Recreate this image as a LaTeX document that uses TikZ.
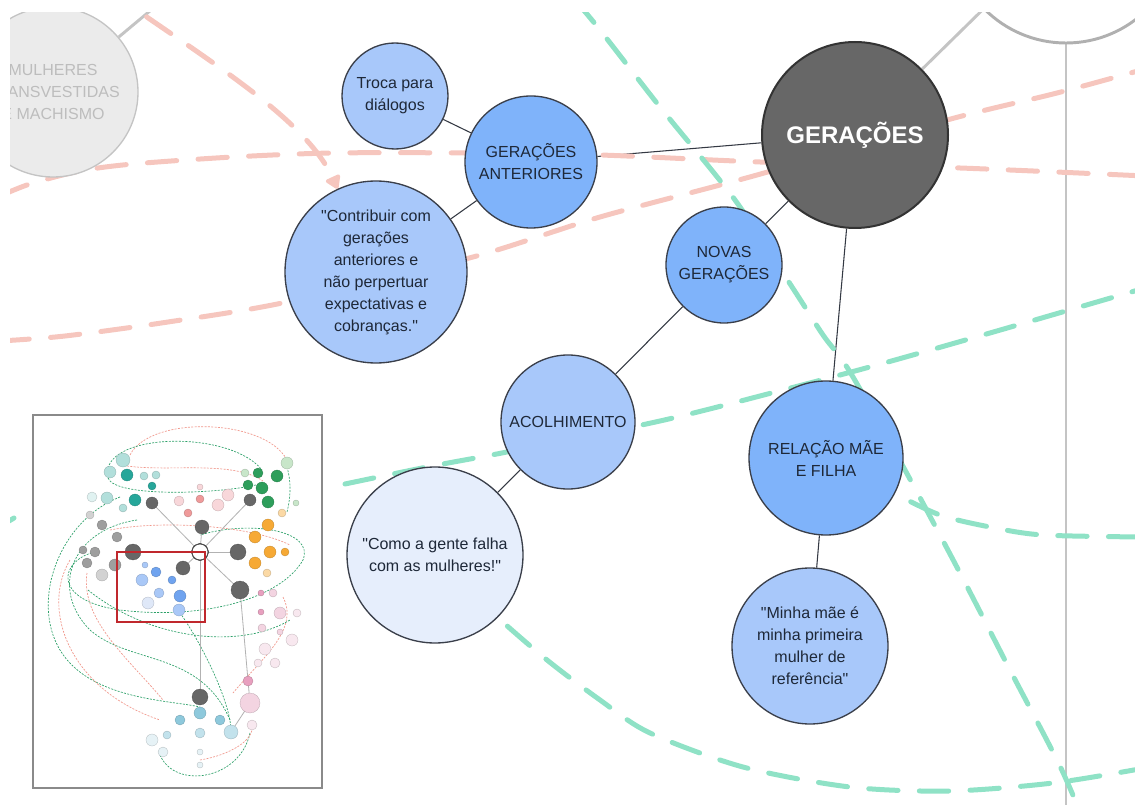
\documentclass[tikz,border=0pt]{standalone}
\usepackage{fontspec}
\setmainfont{Liberation Sans}[Ligatures=TeXOff]
\usetikzlibrary{arrows.meta,backgrounds}

\definecolor{navytext}{HTML}{1E2838}
\definecolor{outline}{HTML}{3A3F4A}
\definecolor{blueMid}{HTML}{7FB3FA}
\definecolor{blueLight}{HTML}{A8C8FA}
\definecolor{blueFaint}{HTML}{E6EEFC}
\definecolor{hubgray}{HTML}{676767}
\definecolor{greyfill}{HTML}{EBEBEB}
\definecolor{greyline}{HTML}{C4C4C4}
\definecolor{greytext}{HTML}{BDBDBD}
\definecolor{dpink}{HTML}{F6C6BE}
\definecolor{dgreen}{HTML}{8FE2C6}
\definecolor{frame}{HTML}{8A8A8A}
\definecolor{focusred}{HTML}{C0282D}
% thumbnail palette
\definecolor{tealD}{HTML}{26A69A}\definecolor{tealL}{HTML}{B2DFDB}\definecolor{tealV}{HTML}{E0F2F1}
\definecolor{grnD}{HTML}{2E9E5B}\definecolor{grnL}{HTML}{C8E6C9}
\definecolor{redD}{HTML}{EF9A9A}\definecolor{redL}{HTML}{F8D7DA}
\definecolor{orgD}{HTML}{F6A935}\definecolor{orgL}{HTML}{FBD9A5}
\definecolor{gryD}{HTML}{9E9E9E}\definecolor{gryL}{HTML}{D2D2D2}
\definecolor{bluD}{HTML}{6FA3EF}\definecolor{bluL}{HTML}{A9C8F7}\definecolor{bluV}{HTML}{DFE8F8}
\definecolor{pnkD}{HTML}{E8A0BF}\definecolor{pnkL}{HTML}{F3D4E1}\definecolor{pnkV}{HTML}{F8E8EF}
\definecolor{cyaD}{HTML}{8EC9DC}\definecolor{cyaL}{HTML}{C2E2EC}\definecolor{cyaV}{HTML}{E6F2F6}

\newcommand\thumbdot[4]{\filldraw[fill=#4,draw=#4!75!black,line width=0.2pt] (#1,#2) circle[radius=#3*0.75pt];}

\begin{document}
\begin{tikzpicture}[x=0.75pt,y=-0.75pt,
  bubble/.style={circle,draw=outline,line width=1pt,inner sep=0pt,
    minimum size=#1*0.75pt,align=center,text=navytext,
    font=\fontsize{12}{16.5}\selectfont},
  link/.style={draw=outline!90!black,line width=0.8pt},
  greylink/.style={draw=greyline,line width=2.2pt},
  pinkdash/.style={draw=dpink,line width=3.75pt,dash pattern=on 22pt off 16pt,line cap=round},
  greendash/.style={draw=dgreen,line width=3.75pt,dash pattern=on 22pt off 16pt,line cap=round},
  thumbpink/.style={draw=redD!90!orange,line width=0.5pt,dash pattern=on 1.5pt off 1pt},
  thumbgreen/.style={draw=grnD!80!tealD,line width=0.5pt,dash pattern=on 1.5pt off 1pt},
  spoke/.style={draw=gray!60,line width=0.6pt}]
\useasboundingbox (0,0) rectangle (1135,805);

% ---------- map nodes ----------
\begin{scope}
\clip (10,13) rectangle (1135,805);
\node[bubble=170,fill=greyfill,draw=greyline,text=greytext] (mulheres) at (53,92)
  {MULHERES\\TRANSVESTIDAS\\E MACHISMO};
\node[circle,draw=greyline!90!black,line width=2.2pt,fill=white,minimum size=230*0.75pt] (topnode) at (1066,-72) {};
\node[bubble=186,fill=hubgray,draw=black!80,line width=1.5pt,text=white,
  font=\fontsize{18}{20}\selectfont\bfseries] (geracoes) at (855,135) {GERAÇÕES};
\node[bubble=132,fill=blueMid] (anteriores) at (531,162) {GERAÇÕES\\ANTERIORES};
\node[bubble=106,fill=blueLight] (troca) at (395,96) {Troca para\\diálogos};
\node[bubble=182,fill=blueLight] (contrib) at (376,272)
  {"Contribuir com\\gerações\\anteriores e\\não perpertuar\\expectativas e\\cobranças."};
\node[bubble=116,fill=blueMid] (novas) at (724,265) {NOVAS\\GERAÇÕES};
\node[bubble=134,fill=blueLight] (acolh) at (568,422) {ACOLHIMENTO};
\node[bubble=176,fill=blueFaint] (como) at (435,555) {"Como a gente falha\\com as mulheres!"};
\node[bubble=154,fill=blueMid] (relacao) at (826,458) {RELAÇÃO MÃE\\E FILHA};
\node[bubble=156,fill=blueLight] (minha) at (810,646)
  {"Minha mãe é\\minha primeira\\mulher de\\referência"};
\coordinate (mulheresOut) at (175,-10);
\coordinate (railEnd) at (1066,820);
\end{scope}

% ---------- connectors and dashed relations, under the nodes ----------
\begin{pgfonlayer}{background}
\begin{scope}
\clip (10,13) rectangle (1135,805);
\draw[greylink] (mulheres) -- (mulheresOut);
\draw[greylink] (geracoes) -- (topnode);
\draw[greylink] (topnode) -- (railEnd);

\draw[link] (troca) -- (anteriores);
\draw[link] (contrib) -- (anteriores);
\draw[link] (anteriores) -- (geracoes);
\draw[link] (geracoes) -- (novas);
\draw[link] (novas) -- (acolh);
\draw[link] (acolh) -- (como);
\draw[link] (geracoes) -- (relacao);
\draw[link] (relacao) -- (minha);

% salmon relations
\draw[pinkdash,-{Triangle[length=11pt,width=13pt,round]}]
  (105,-12) .. controls (210,62) and (305,118) .. (contrib);
\draw[pinkdash] plot[smooth] coordinates {(0,196) (30,184) (80,171) (133,164) (233,157)
  (333,153) (470,153) (600,155) (760,162) (960,168) (1145,176)};
\draw[pinkdash] plot[smooth] coordinates {(0,341) (65,336) (168,322) (287,302) (473,257)
  (600,217) (757,175) (947,120) (1057,93) (1145,69)};

% mint relations
\draw[greendash] plot[smooth] coordinates {(575,0) (600,30) (660,107) (735,200) (794,290)
  (823,335) (850,372) (905,470) (960,573) (1010,670) (1058,762) (1080,812)};
\draw[greendash] plot[smooth] coordinates {(345,484) (427,467) (507,452) (660,421)
  (783,390) (877,365) (983,335) (1145,288)};
\draw[greendash] plot[smooth] coordinates {(470,592) (497,617) (547,660) (600,700)
  (650,733) (743,767) (850,787) (950,791) (1053,783) (1145,768)};
\draw[greendash] plot[smooth] coordinates {(865,480) (893,493) (940,515) (990,527)
  (1043,535) (1145,537)};
\draw[draw=dgreen,line width=3.75pt,line cap=round] (9,521) -- (14,518);
\end{scope}
\end{pgfonlayer}

% ---------- overview thumbnail ----------
\begin{scope}
\fill[white] (33,415) rectangle (322,788);
% relations
\draw[thumbpink] (130,455) .. controls (150,415) and (265,418) .. (287,460);
\draw[thumbgreen] (108,468) .. controls (118,432) and (232,432) .. (262,470);
\draw[thumbpink] (127,466) .. controls (170,472) and (232,460) .. (263,481);
\draw[thumbgreen] (108,478) .. controls (115,498) and (222,494) .. (260,484);
\draw[thumbgreen] (287,467) .. controls (292,485) and (290,500) .. (287,512);
\draw[thumbgreen] (120,497) .. controls (60,520) and (30,600) .. (60,650)
  .. controls (90,700) and (170,700) .. (200,707);
\draw[thumbgreen] (137,520) .. controls (70,530) and (50,590) .. (90,630)
  .. controls (130,665) and (200,650) .. (230,720);
\draw[thumbgreen] (95,552) .. controls (60,560) and (50,600) .. (120,610)
  .. controls (200,620) and (280,600) .. (303,560) .. controls (315,530) and (250,520) .. (200,535);
\draw[thumbpink] (87,573) .. controls (80,620) and (130,660) .. (163,700);
\draw[thumbpink] (110,530) .. controls (160,520) and (250,525) .. (290,545);
\draw[thumbpink] (283,597) .. controls (300,630) and (260,660) .. (233,693);
\draw[thumbgreen] (88,590) .. controls (150,640) and (240,650) .. (290,620);
\draw[thumbgreen] (160,755) .. controls (175,790) and (240,780) .. (250,733);
\draw[thumbpink] (200,760) .. controls (230,755) and (255,740) .. (252,725);
\draw[thumbgreen] (178,610) .. controls (200,640) and (230,700) .. (231,730);
\draw[thumbpink] (70,560) .. controls (40,610) and (70,690) .. (160,720);
% spokes
\foreach \hx/\hy in {152/503,250/500,202/527,133/552,238/552,183/568,240/590}
  \draw[spoke] (200,552) -- (\hx,\hy);
\draw[spoke] (200,552) -- (200,697);
\draw[spoke] (240,590) -- (250,703);
\draw[spoke] (250,703) -- (231,732);
% clusters
\thumbdot{127}{475}{6}{tealD}\thumbdot{152}{486}{4}{tealD}\thumbdot{135}{500}{6}{tealD}
\thumbdot{123}{460}{7}{tealL}\thumbdot{110}{472}{6}{tealL}\thumbdot{144}{476}{4}{tealL}
\thumbdot{156}{475}{4}{tealL}\thumbdot{107}{498}{6}{tealL}\thumbdot{123}{508}{4}{tealL}
\thumbdot{92}{497}{5}{tealV}
\thumbdot{258}{473}{5}{grnD}\thumbdot{277}{476}{6}{grnD}\thumbdot{248}{485}{5}{grnD}
\thumbdot{262}{488}{6}{grnD}\thumbdot{268}{502}{6}{grnD}
\thumbdot{245}{473}{4}{grnL}\thumbdot{287}{463}{6}{grnL}\thumbdot{296}{503}{3}{grnL}
\thumbdot{200}{487}{3}{redL}\thumbdot{200}{499}{4}{redD}\thumbdot{179}{501}{5}{redL}
\thumbdot{218}{505}{6}{redL}\thumbdot{228}{495}{6}{redL}\thumbdot{188}{513}{4}{redD}
\thumbdot{268}{525}{6}{orgD}\thumbdot{255}{537}{6}{orgD}\thumbdot{270}{552}{6}{orgD}
\thumbdot{285}{552}{4}{orgD}\thumbdot{255}{563}{6}{orgD}\thumbdot{267}{573}{4}{orgL}
\thumbdot{282}{513}{4}{orgL}
\thumbdot{102}{525}{5}{gryD}\thumbdot{117}{537}{5}{gryD}\thumbdot{95}{552}{5}{gryD}
\thumbdot{83}{550}{4}{gryD}\thumbdot{87}{563}{5}{gryD}\thumbdot{102}{575}{6}{gryL}
\thumbdot{115}{565}{6}{gryD}\thumbdot{90}{515}{4}{gryL}
\thumbdot{145}{565}{3}{bluL}\thumbdot{156}{572}{5}{bluD}\thumbdot{142}{580}{6}{bluL}
\thumbdot{172}{580}{4}{bluD}\thumbdot{159}{593}{5}{bluL}\thumbdot{180}{596}{6}{bluD}
\thumbdot{148}{603}{6}{bluV}\thumbdot{179}{610}{6}{bluL}
\thumbdot{273}{593}{4}{pnkL}\thumbdot{261}{593}{3}{pnkD}\thumbdot{261}{612}{3}{pnkD}
\thumbdot{280}{613}{6}{pnkL}\thumbdot{297}{613}{4}{pnkV}\thumbdot{262}{628}{4}{pnkL}
\thumbdot{280}{632}{3}{pnkL}\thumbdot{292}{640}{6}{pnkV}\thumbdot{265}{649}{6}{pnkV}
\thumbdot{258}{663}{4}{pnkV}\thumbdot{275}{663}{5}{pnkV}\thumbdot{248}{681}{5}{pnkD}
\thumbdot{250}{703}{10}{pnkL}\thumbdot{252}{725}{5}{pnkV}
\thumbdot{200}{713}{6}{cyaD}\thumbdot{180}{720}{5}{cyaD}\thumbdot{220}{720}{5}{cyaD}
\thumbdot{167}{735}{4}{cyaL}\thumbdot{200}{733}{5}{cyaL}\thumbdot{231}{732}{7}{cyaL}
\thumbdot{152}{740}{6}{cyaV}\thumbdot{163}{752}{5}{cyaV}\thumbdot{200}{752}{3}{cyaV}
\thumbdot{200}{765}{3}{cyaV}
% hubs
\foreach \hx/\hy/\hr in {152/503/6,202/527/7,250/500/6,133/552/8,238/552/8,183/568/7,240/590/9,200/697/8}
  \thumbdot{\hx}{\hy}{\hr}{hubgray}
\filldraw[fill=white,draw=black!70,line width=0.6pt] (200,552) circle[radius=8*0.75pt];
% frame and focus window
\draw[frame,line width=1.5pt] (33,415) rectangle (322,788);
\draw[focusred,line width=1.9pt] (117,552) rectangle (205,622);
\end{scope}
\end{tikzpicture}
\end{document}
